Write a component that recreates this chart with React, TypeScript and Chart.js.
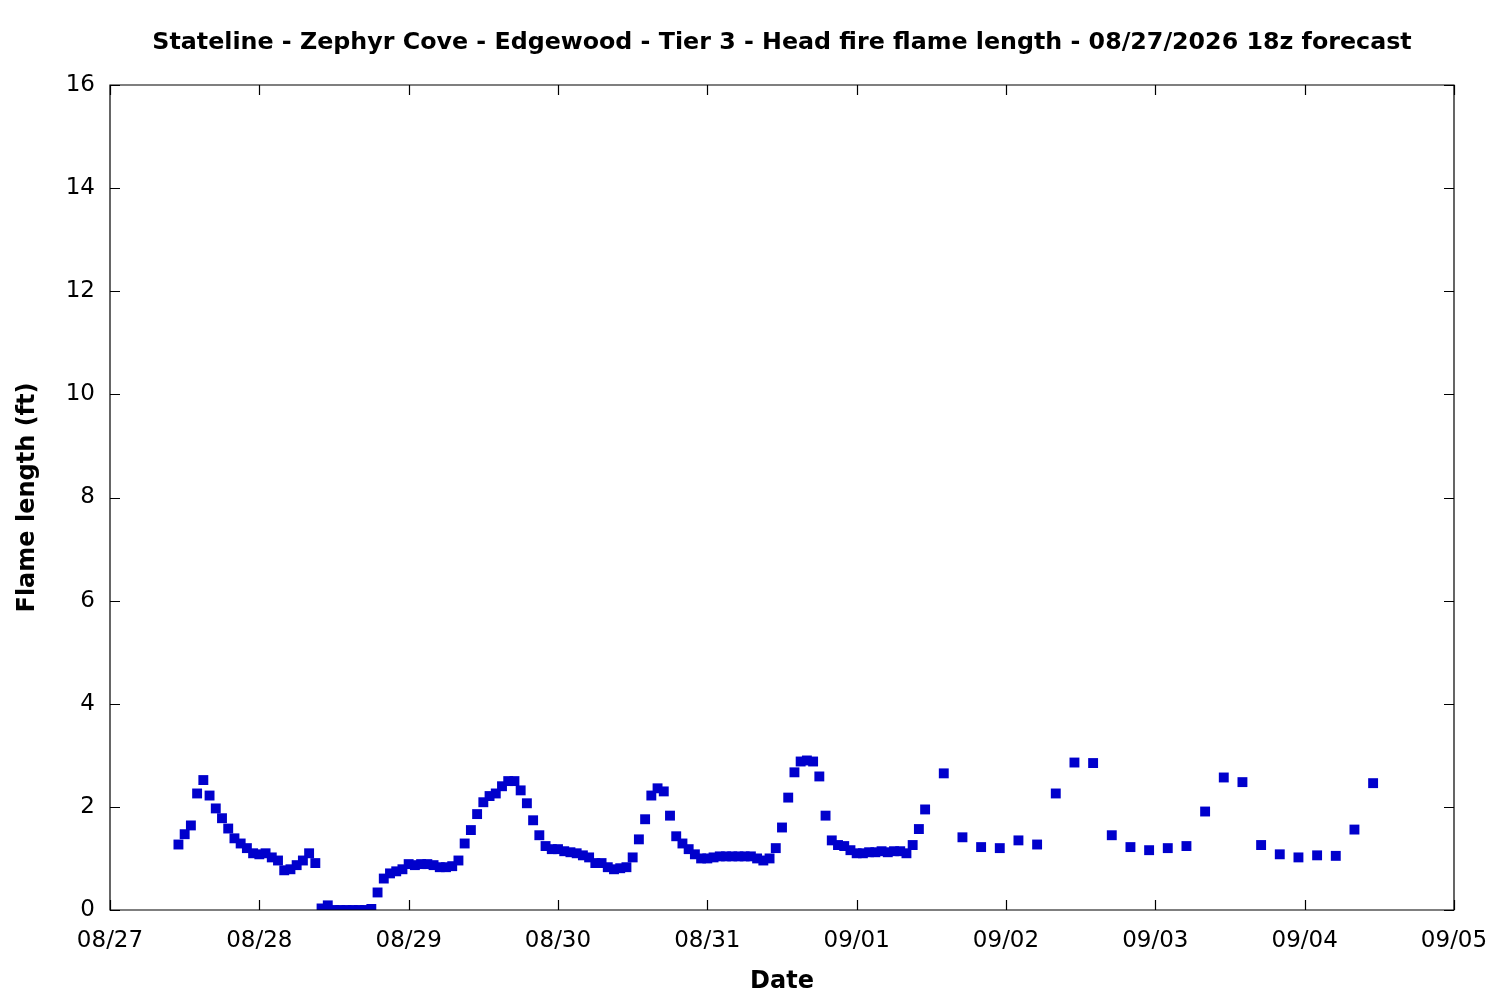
import React, { useEffect, useRef } from "react";
import { Chart, registerables } from "chart.js";

Chart.register(...registerables);

const TITLE = "Stateline - Zephyr Cove - Edgewood - Tier 3 - Head fire flame length - 08/27/2026 18z forecast";
const X_TITLE = "Date";
const Y_TITLE = "Flame length (ft)";

// hours since 08/27 00:00
const hours = [
  11, 12, 13, 14, 15, 16, 17, 18, 19, 20, 21, 22, 23,
  24, 25, 26, 27, 28, 29, 30, 31, 32, 33, 34, 35, 36, 37, 38, 39, 40, 41, 42, 43, 44, 45, 46, 47,
  48, 49, 50, 51, 52, 53, 54, 55, 56, 57, 58, 59, 60, 61, 62, 63, 64, 65, 66, 67, 68, 69, 70, 71,
  72, 73, 74, 75, 76, 77, 78, 79, 80, 81, 82, 83, 84, 85, 86, 87, 88, 89, 90, 91, 92, 93, 94, 95,
  96, 97, 98, 99, 100, 101, 102, 103, 104, 105, 106, 107, 108, 109, 110, 111, 112, 113, 114, 115, 116, 117, 118, 119,
  120, 121, 122, 123, 124, 125, 126, 127, 128, 129, 130, 131,
  134, 137, 140, 143, 146, 149, 152, 155, 158, 161, 164, 167,
  170, 173, 176, 179, 182, 185, 188, 191, 194, 197, 200, 203,
];

const flameLength = [
  1.27, 1.47, 1.64, 2.26, 2.52, 2.22, 1.97, 1.78, 1.58, 1.39, 1.29, 1.20, 1.10,
  1.08, 1.10, 1.02, 0.96, 0.77, 0.79, 0.87, 0.96, 1.10, 0.91, 0.03, 0.09, 0, 0, 0, 0, 0, 0, 0.02, 0.34, 0.61, 0.71, 0.75, 0.79,
  0.89, 0.87, 0.89, 0.89, 0.87, 0.83, 0.83, 0.85, 0.96, 1.29, 1.55, 1.86, 2.09, 2.21, 2.26, 2.40, 2.50, 2.50, 2.32, 2.07, 1.74, 1.45, 1.24, 1.18,
  1.18, 1.14, 1.12, 1.10, 1.06, 1.02, 0.91, 0.91, 0.83, 0.79, 0.81, 0.83, 1.02, 1.37, 1.76, 2.22, 2.36, 2.30, 1.83, 1.43, 1.29, 1.18, 1.08, 1.00,
  1.00, 1.02, 1.04, 1.04, 1.04, 1.04, 1.04, 1.04, 1.00, 0.96, 1.00, 1.20, 1.60, 2.18, 2.67, 2.88, 2.90, 2.88, 2.59, 1.83, 1.35, 1.26, 1.24, 1.16,
  1.10, 1.10, 1.12, 1.12, 1.14, 1.12, 1.14, 1.14, 1.10, 1.26, 1.57, 1.95,
  2.65, 1.41, 1.22, 1.20, 1.35, 1.27, 2.26, 2.86, 2.85, 1.45, 1.22, 1.16,
  1.20, 1.24, 1.91, 2.57, 2.48, 1.26, 1.08, 1.02, 1.06, 1.05, 1.56, 2.46,
];

const dateLabels = ["08/27", "08/28", "08/29", "08/30", "08/31", "09/01", "09/02", "09/03", "09/04", "09/05"];
const yTicks = [0, 2, 4, 6, 8, 10, 12, 14, 16];

const FONT = "'DejaVu Sans', sans-serif";

const framePlugin = {
  id: "frame",
  afterDraw(chart: any) {
    const { ctx, chartArea } = chart;
    const { left, right, top, bottom } = chartArea;
    const xs = chart.scales.x;
    const ys = chart.scales.y;
    const tl = 10;
    ctx.save();
    ctx.strokeStyle = "#000";
    ctx.lineWidth = 1.2;
    ctx.beginPath();
    ctx.rect(left, top, right - left, bottom - top);
    ctx.stroke();
    ctx.beginPath();
    xs.ticks.forEach((t: any) => {
      const px = Math.round(xs.getPixelForValue(t.value)) + 0.5;
      ctx.moveTo(px, bottom);
      ctx.lineTo(px, bottom - tl);
      ctx.moveTo(px, top);
      ctx.lineTo(px, top + tl);
    });
    ys.ticks.forEach((t: any) => {
      const py = Math.round(ys.getPixelForValue(t.value)) + 0.5;
      ctx.moveTo(left, py);
      ctx.lineTo(left + tl, py);
      ctx.moveTo(right, py);
      ctx.lineTo(right - tl, py);
    });
    ctx.stroke();
    // title
    ctx.fillStyle = "#000";
    ctx.font = `bold 23.75px ${FONT}`;
    ctx.textAlign = "center";
    ctx.textBaseline = "middle";
    ctx.fillText(TITLE, (left + right) / 2, 43);
    ctx.restore();
  },
};

export default function App() {
  const ref = useRef<HTMLCanvasElement | null>(null);
  useEffect(() => {
    document.body.style.margin = "0";
    const canvas = ref.current!;
    const chart = new Chart(canvas, {
      type: "scatter",
      data: {
        datasets: [
          {
            data: hours.map((h, i) => ({ x: h, y: flameLength[i] })),
            pointStyle: "rect",
            pointRadius: 7,
            pointBorderWidth: 0,
            backgroundColor: "#0000cc",
            borderColor: "#0000cc",
            showLine: false,
          },
        ],
      },
      options: {
        animation: false,
        responsive: false,
        devicePixelRatio: 1,
        layout: { padding: { top: 85, right: 46, left: 0, bottom: 0 } },
        plugins: { legend: { display: false }, tooltip: { enabled: false }, title: { display: false } },
        scales: {
          x: {
            type: "linear",
            min: 0,
            max: 216,
            afterBuildTicks(scale: any) {
              scale.ticks = dateLabels.map((_, i) => ({ value: i * 24 }));
            },
            ticks: {
              callback: (v: any) => dateLabels[Math.round(Number(v) / 24)],
              font: { family: FONT, size: 23 },
              color: "#000",
              padding: 17,
              maxRotation: 0,
              autoSkip: false,
            },
            grid: { display: false, drawTicks: false },
            border: { display: false },
            title: {
              display: true,
              text: X_TITLE,
              font: { family: FONT, size: 24, weight: "bold" },
              color: "#000",
              padding: { top: 0, bottom: 4 },
            },
            afterFit(scale: any) {
              scale.height = 90;
              scale.paddingLeft = 0;
              scale.paddingRight = 0;
            },
          },
          y: {
            type: "linear",
            min: 0,
            max: 16,
            afterBuildTicks(scale: any) {
              scale.ticks = yTicks.map((v) => ({ value: v }));
            },
            ticks: {
              font: { family: FONT, size: 23 },
              color: "#000",
              padding: 15,
            },
            grid: { display: false, drawTicks: false },
            border: { display: false },
            title: {
              display: true,
              text: Y_TITLE,
              font: { family: FONT, size: 24, weight: "bold" },
              color: "#000",
              padding: { top: 13, bottom: 0 },
            },
            afterFit(scale: any) {
              scale.width = 110;
              scale.paddingTop = 0;
              scale.paddingBottom = 0;
            },
          },
        },
      },
      plugins: [framePlugin],
    } as any);
    return () => chart.destroy();
  }, []);
  return (
    <canvas
      ref={ref}
      width={1500}
      height={1000}
      style={{ position: "absolute", left: 0, top: 0, width: 1500, height: 1000 }}
    />
  );
}
